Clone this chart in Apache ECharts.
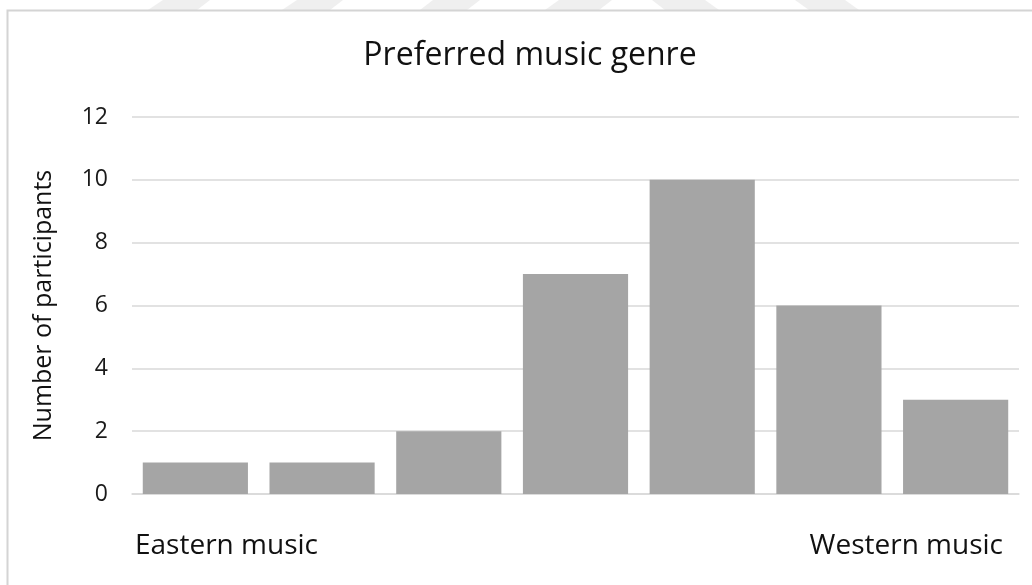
<!DOCTYPE html>
<html>
<head>
<meta charset="utf-8">
<title>Preferred music genre</title>
<script src="https://cdn.jsdelivr.net/npm/echarts@6/dist/echarts.min.js"></script>
<style>
  html, body { margin: 0; padding: 0; background: #fff; }
  #chart { width: 1032px; height: 585px; }
</style>
</head>
<body>
<div id="chart"></div>
<script>
  // data
  var categories = ['1', '2', '3', '4', '5', '6', '7'];
  var participants = [1, 1, 2, 7, 10, 6, 3];
  var yTicks = [0, 2, 4, 6, 8, 10, 12];
  var endLabels = ['Eastern music', 'Western music'];

  var font = '"Open Sans", "Noto Sans", sans-serif';

  // faint watermark stripes above the frame
  var stripes = [
    [[163, 0], [210, 0], [197, 10], [148, 10]],
    [[297, 0], [343, 0], [330, 10], [282, 10]],
    [[433, 0], [480, 0], [467, 10], [420, 10]],
    [[559, 0], [612, 0], [599, 10], [545, 10]],
    [[652, 0], [705, 0], [719, 10], [665, 10]],
    [[795, 0], [845, 0], [859, 10], [809, 10]]
  ];
  var graphics = stripes.map(function (pts) {
    return {
      type: 'polygon',
      shape: { points: pts },
      style: { fill: '#efefef' },
      silent: true
    };
  });
  graphics.push({
    type: 'rect',
    shape: { x: 7.5, y: 10.5, width: 1100, height: 700 },
    style: { fill: 'none', stroke: '#d4d4d4', lineWidth: 2 },
    silent: true
  });
  graphics.push({
    type: 'text',
    left: 135,
    top: 532,
    style: { text: endLabels[0], font: '28px ' + font, fill: '#111' }
  });
  graphics.push({
    type: 'text',
    right: 29,
    top: 532,
    style: { text: endLabels[1], font: '28px ' + font, fill: '#111' }
  });

  var myChart = echarts.init(document.getElementById('chart'));
  var option = {
    backgroundColor: '#fff',
    animation: false,
    title: {
      text: 'Preferred music genre',
      left: 525,
      textAlign: 'center',
      top: 35,
      textStyle: {
        fontFamily: font,
        fontSize: 32,
        fontWeight: 'normal',
        color: '#111'
      }
    },
    grid: {
      left: 132,
      right: 13,
      top: 117,
      bottom: 91
    },
    xAxis: {
      type: 'category',
      data: categories,
      axisLine: { lineStyle: { color: '#d9d9d9', width: 1.5 } },
      axisTick: { show: false },
      axisLabel: { show: false }
    },
    yAxis: {
      type: 'value',
      min: yTicks[0],
      max: yTicks[yTicks.length - 1],
      interval: yTicks[1] - yTicks[0],
      name: 'Number of participants',
      nameLocation: 'middle',
      nameGap: 76,
      nameTextStyle: {
        fontFamily: font,
        fontSize: 25,
        color: '#111'
      },
      axisLine: { show: false },
      axisTick: { show: false },
      axisLabel: {
        margin: 24,
        fontFamily: font,
        fontSize: 23,
        color: '#1a1a1a'
      },
      splitLine: { lineStyle: { color: '#d9d9d9', width: 1.5 } }
    },
    series: [
      {
        type: 'bar',
        data: participants,
        barCategoryGap: '17%',
        itemStyle: { color: '#a5a5a5' }
      }
    ],
    graphic: graphics
  };
  myChart.setOption(option);
</script>
</body>
</html>
